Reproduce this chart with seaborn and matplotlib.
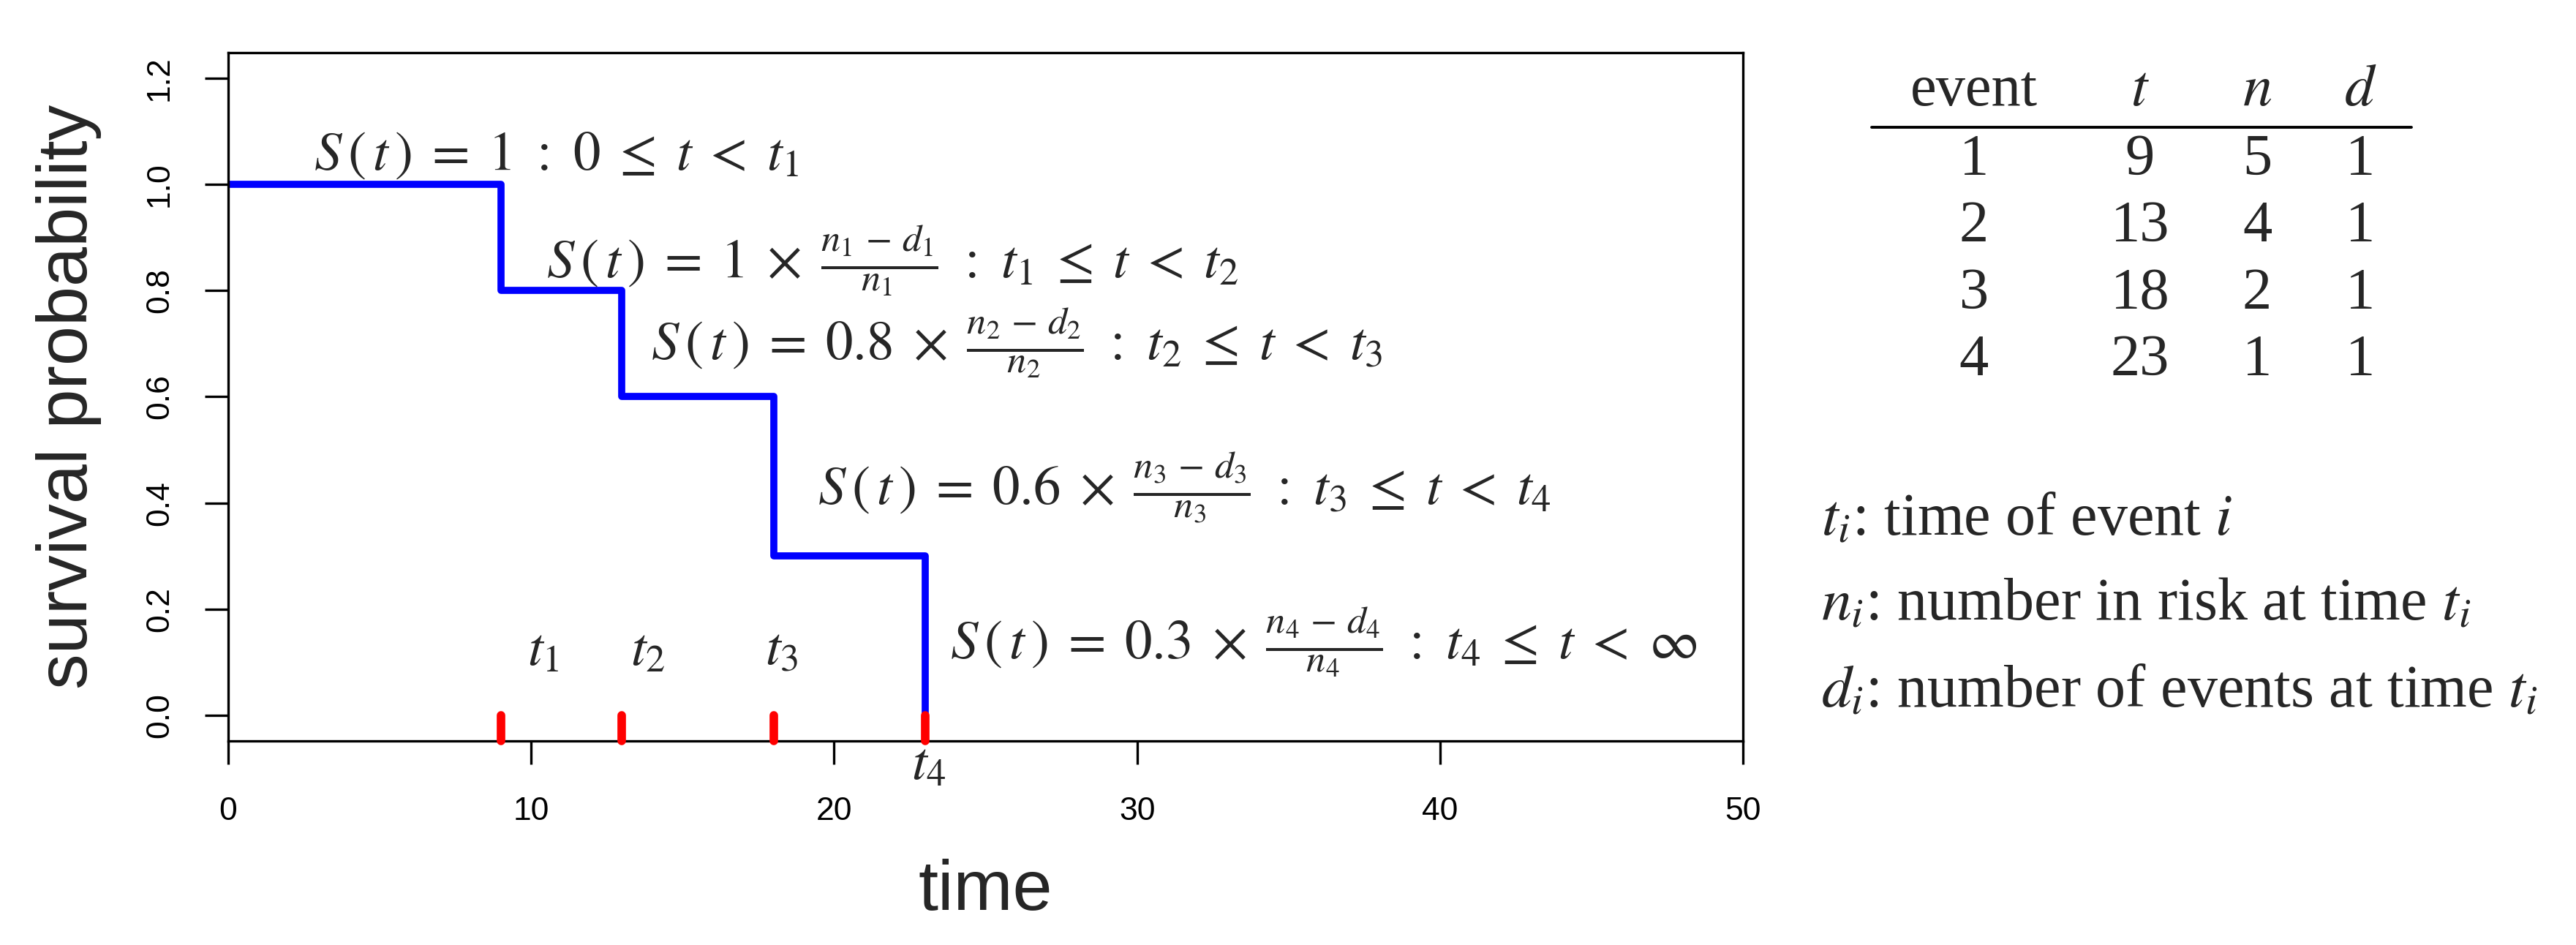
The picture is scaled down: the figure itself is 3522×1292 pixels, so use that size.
import matplotlib
matplotlib.use("Agg")
import matplotlib.pyplot as plt
from matplotlib.lines import Line2D
import seaborn as sns
import pandas as pd

# ---------------- data ----------------
step_times = [0, 9, 13, 18, 23]
survival = [1.0, 0.8, 0.6, 0.3, 0.0]

event_ids = [1, 2, 3, 4]
event_times = [9, 13, 18, 23]
n_at_risk = [5, 4, 2, 1]
n_events = [1, 1, 1, 1]

x_ticks = [0, 10, 20, 30, 40, 50]
x_tick_labels = ["0", "10", "20", "30", "40", "50"]
y_ticks = [0.0, 0.2, 0.4, 0.6, 0.8, 1.0, 1.2]
y_tick_labels = ["0.0", "0.2", "0.4", "0.6", "0.8", "1.0", "1.2"]

x_label = "time"
y_label = "survival probability"

formulas = [
    r"$S\,(\,t\,)\;=\;1\ :\ 0\;\leq\;t\;<\;t_1$",
    r"$S\,(\,t\,)\;=\;1\;\times\;\frac{n_1\,-\,d_1}{n_1}\ :\ t_1\;\leq\;t\;<\;t_2$",
    r"$S\,(\,t\,)\;=\;0.8\;\times\;\frac{n_2\,-\,d_2}{n_2}\ :\ t_2\;\leq\;t\;<\;t_3$",
    r"$S\,(\,t\,)\;=\;0.6\;\times\;\frac{n_3\,-\,d_3}{n_3}\ :\ t_3\;\leq\;t\;<\;t_4$",
    r"$S\,(\,t\,)\;=\;0.3\;\times\;\frac{n_4\,-\,d_4}{n_4}\ :\ t_4\;\leq\;t\;<\;\infty$",
]
time_labels = [r"$t_1$", r"$t_2$", r"$t_3$", r"$t_4$"]

table_header = ["event", r"$t$", r"$n$", r"$d$"]
legend_lines = [
    r"$t_i$: time of event $i$",
    r"$n_i$: number in risk at time $t_i$",
    r"$d_i$: number of events at time $t_i$",
]

# ---------------- layout constants ----------------
W, H, DPI = 3522, 1292, 200
formula_pos = [(2.82, 1.054), (10.5, 0.857), (13.95, 0.702), (19.46, 0.43), (23.83, 0.139)]
time_label_pos = [(10.41, 0.12), (13.86, 0.12), (18.28, 0.12), (23.13, -0.095)]
table_col_px = [2699, 2926, 3086, 3227]
table_header_base_px = 144
table_rule_px = (2559, 3297, 174)
table_row_base_px = [239, 330, 422, 513]
legend_x_px = 2490
legend_base_px = [732, 848, 967]

sns.set_style("ticks")
plt.rcParams["font.family"] = ["Liberation Sans", "DejaVu Sans"]
plt.rcParams["mathtext.fontset"] = "stix"
SERIF = ["Liberation Serif", "DejaVu Serif"]

fig = plt.figure(figsize=(W / DPI, H / DPI), dpi=DPI)
fig.patch.set_facecolor("white")
ax = fig.add_axes([312 / W, 1 - 1013 / H, (2383 - 312) / W, (1013 - 72) / H])

df = pd.DataFrame({"time": step_times, "surv": survival})
sns.lineplot(data=df, x="time", y="surv", drawstyle="steps-post",
             color="#0000FF", linewidth=3.5, estimator=None, ax=ax)
sns.rugplot(x=event_times, height=0.048 / 1.296, color="#FF0000",
            linewidth=4.2, expand_margins=False, ax=ax,
            capstyle="round", clip_on=False, zorder=5)

ax.set_xlim(0, 50)
ax.set_ylim(-0.048, 1.248)
ax.set_xticks(x_ticks)
ax.set_xticklabels(x_tick_labels)
ax.set_yticks(y_ticks)
ax.set_yticklabels(y_tick_labels)
ax.tick_params(axis="both", direction="out", length=11.5, width=1.2,
               labelsize=16, color="black", labelcolor="black")
ax.tick_params(axis="x", pad=15.8)
ax.tick_params(axis="y", pad=14.8, labelrotation=90)
for lab in ax.get_yticklabels():
    lab.set_va("center")
for s in ax.spines.values():
    s.set_visible(True)
    s.set_linewidth(1.2)
    s.set_color("black")

ax.set_xlabel(x_label, fontsize=35)
ax.set_ylabel(y_label, fontsize=35)
ax.xaxis.label.set_va("center")
ax.yaxis.label.set_va("center")
ax.xaxis.set_label_coords(0.5, -0.219)
ax.yaxis.set_label_coords(-0.1053, 0.5)

for txt, (x, y) in zip(formulas, formula_pos):
    ax.text(x, y, txt, ha="left", va="center", fontsize=27, family=SERIF)
for txt, (x, y) in zip(time_labels, time_label_pos):
    ax.text(x, y, txt, ha="center", va="center", fontsize=27, family=SERIF)

# table
for cx, head in zip(table_col_px, table_header):
    fig.text(cx / W, 1 - table_header_base_px / H, head, ha="center",
             va="baseline", fontsize=29, family=SERIF)
x0, x1, yr = table_rule_px
fig.add_artist(Line2D([x0 / W, x1 / W], [1 - yr / H, 1 - yr / H],
                      color="black", linewidth=1.4))
for r, yb in enumerate(table_row_base_px):
    row = [event_ids[r], event_times[r], n_at_risk[r], n_events[r]]
    for cx, val in zip(table_col_px, row):
        fig.text(cx / W, 1 - yb / H, str(val), ha="center", va="baseline",
                 fontsize=29, family=SERIF)

for txt, yb in zip(legend_lines, legend_base_px):
    fig.text(legend_x_px / W, 1 - yb / H, txt, ha="left", va="baseline",
             fontsize=29.5, family=SERIF)

fig.savefig("out.png", dpi=DPI, facecolor="white")
